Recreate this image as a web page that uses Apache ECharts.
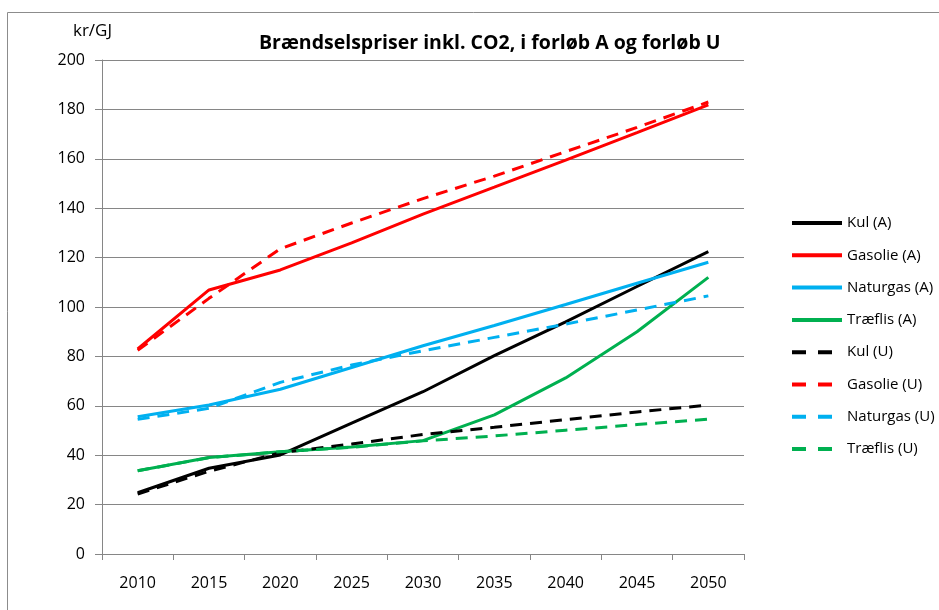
<!DOCTYPE html>
<html>
<head>
<meta charset="utf-8">
<script src="https://cdn.jsdelivr.net/npm/echarts@6/dist/echarts.min.js"></script>
<style>
  html, body { margin: 0; padding: 0; background: #fff; }
  #chart { width: 939px; height: 610px; }
</style>
</head>
<body>
<div id="chart"></div>
<script>
  // years on the x axis
  const years = ['2010', '2015', '2020', '2025', '2030', '2035', '2040', '2045', '2050'];

  // forløb A (solid)
  const kulA      = [24.8, 34.7, 40.1, 53, 65.7, 80.3, 94, 108.3, 122.4];
  const gasolieA  = [83, 106.9, 115, 126, 137.6, 148.5, 159.5, 170.6, 181.8];
  const naturgasA = [55.6, 60.3, 66.7, 75.5, 84.3, 92.5, 101, 109.6, 118.1];
  const traeflisA = [33.7, 39.1, 41.4, 43.3, 45.9, 56.3, 71.3, 90, 112];

  // forløb U (dashed)
  const kulU      = [24.3, 33.5, 41, 44.5, 48.4, 51.3, 54.4, 57.5, 60.3];
  const gasolieU  = [82.5, 103.5, 123.6, 134, 143.9, 153, 162.9, 172.7, 183];
  const naturgasU = [54.5, 59, 69.5, 76.5, 82.3, 87.7, 93.1, 98.8, 104.5];
  const traeflisU = [33.7, 39, 41.4, 43.2, 45.8, 47.8, 50.1, 52.4, 54.6];

  const FONT = '"Open Sans", Lato, sans-serif';
  const seriesDefs = [
    ['Kul (A)', kulA, '#000000', 'solid'],
    ['Gasolie (A)', gasolieA, '#FF0000', 'solid'],
    ['Naturgas (A)', naturgasA, '#00B0F0', 'solid'],
    ['Træflis (A)', traeflisA, '#00B050', 'solid'],
    ['Kul (U)', kulU, '#000000', 'dashed'],
    ['Gasolie (U)', gasolieU, '#FF0000', 'dashed'],
    ['Naturgas (U)', naturgasU, '#00B0F0', 'dashed'],
    ['Træflis (U)', traeflisU, '#00B050', 'dashed'],
  ];

  const chart = echarts.init(document.getElementById('chart'), null, { renderer: 'canvas' });
  chart.setOption({
    backgroundColor: '#fff',
    animation: false,
    graphic: [{
      type: 'rect', left: 5, top: 10,
      shape: { width: 960, height: 620 },
      style: { fill: 'none', stroke: '#8c8c8c', lineWidth: 1 },
      silent: true,
    }],
    title: {
      text: 'Brændselspriser inkl. CO2, i forløb A og forløb U',
      left: 254, top: 28,
      textStyle: { fontFamily: FONT, fontSize: 19.5, fontWeight: 'bold', color: '#000' },
    },
    legend: {
      orient: 'vertical',
      left: 790, top: 212, padding: 0,
      itemWidth: 50, itemHeight: 14, itemGap: 10.3,
      itemStyle: { opacity: 0 },
      textStyle: { fontFamily: FONT, fontSize: 15, color: '#000', lineHeight: 22 },
      data: seriesDefs.map(d => d[3] === 'dashed'
        ? { name: d[0], lineStyle: { type: [14, 12], width: 4 } }
        : { name: d[0], lineStyle: { width: 4 } }),
    },
    grid: { left: 102, right: 195, top: 60, bottom: 56 },
    xAxis: {
      type: 'category', data: years, boundaryGap: true,
      axisLine: { lineStyle: { color: '#868686' } },
      axisTick: { show: true, alignWithLabel: false, length: 6, lineStyle: { color: '#868686' } },
      axisLabel: { fontFamily: FONT, fontSize: 16, color: '#000', margin: 21 },
    },
    yAxis: {
      type: 'value', min: 0, max: 200, interval: 20,
      name: 'kr/GJ', nameLocation: 'end', nameGap: 20,
      nameTextStyle: { fontFamily: FONT, fontSize: 17, color: '#000', align: 'right', padding: [0, -10, 0, 0] },
      axisLine: { show: true, lineStyle: { color: '#868686' } },
      axisTick: { show: true, length: 7, lineStyle: { color: '#868686' } },
      axisLabel: { fontFamily: FONT, fontSize: 16, color: '#000', margin: 17 },
      splitLine: { lineStyle: { color: '#868686', width: 1 } },
    },
    series: seriesDefs.map(([name, data, color, type]) => ({
      name, type: 'line', data,
      showSymbol: false, symbol: 'none',
      itemStyle: { color },
      lineStyle: { color, width: 3, type: type === 'dashed' ? [12, 8] : 'solid' },
    })),
  });
</script>
</body>
</html>
